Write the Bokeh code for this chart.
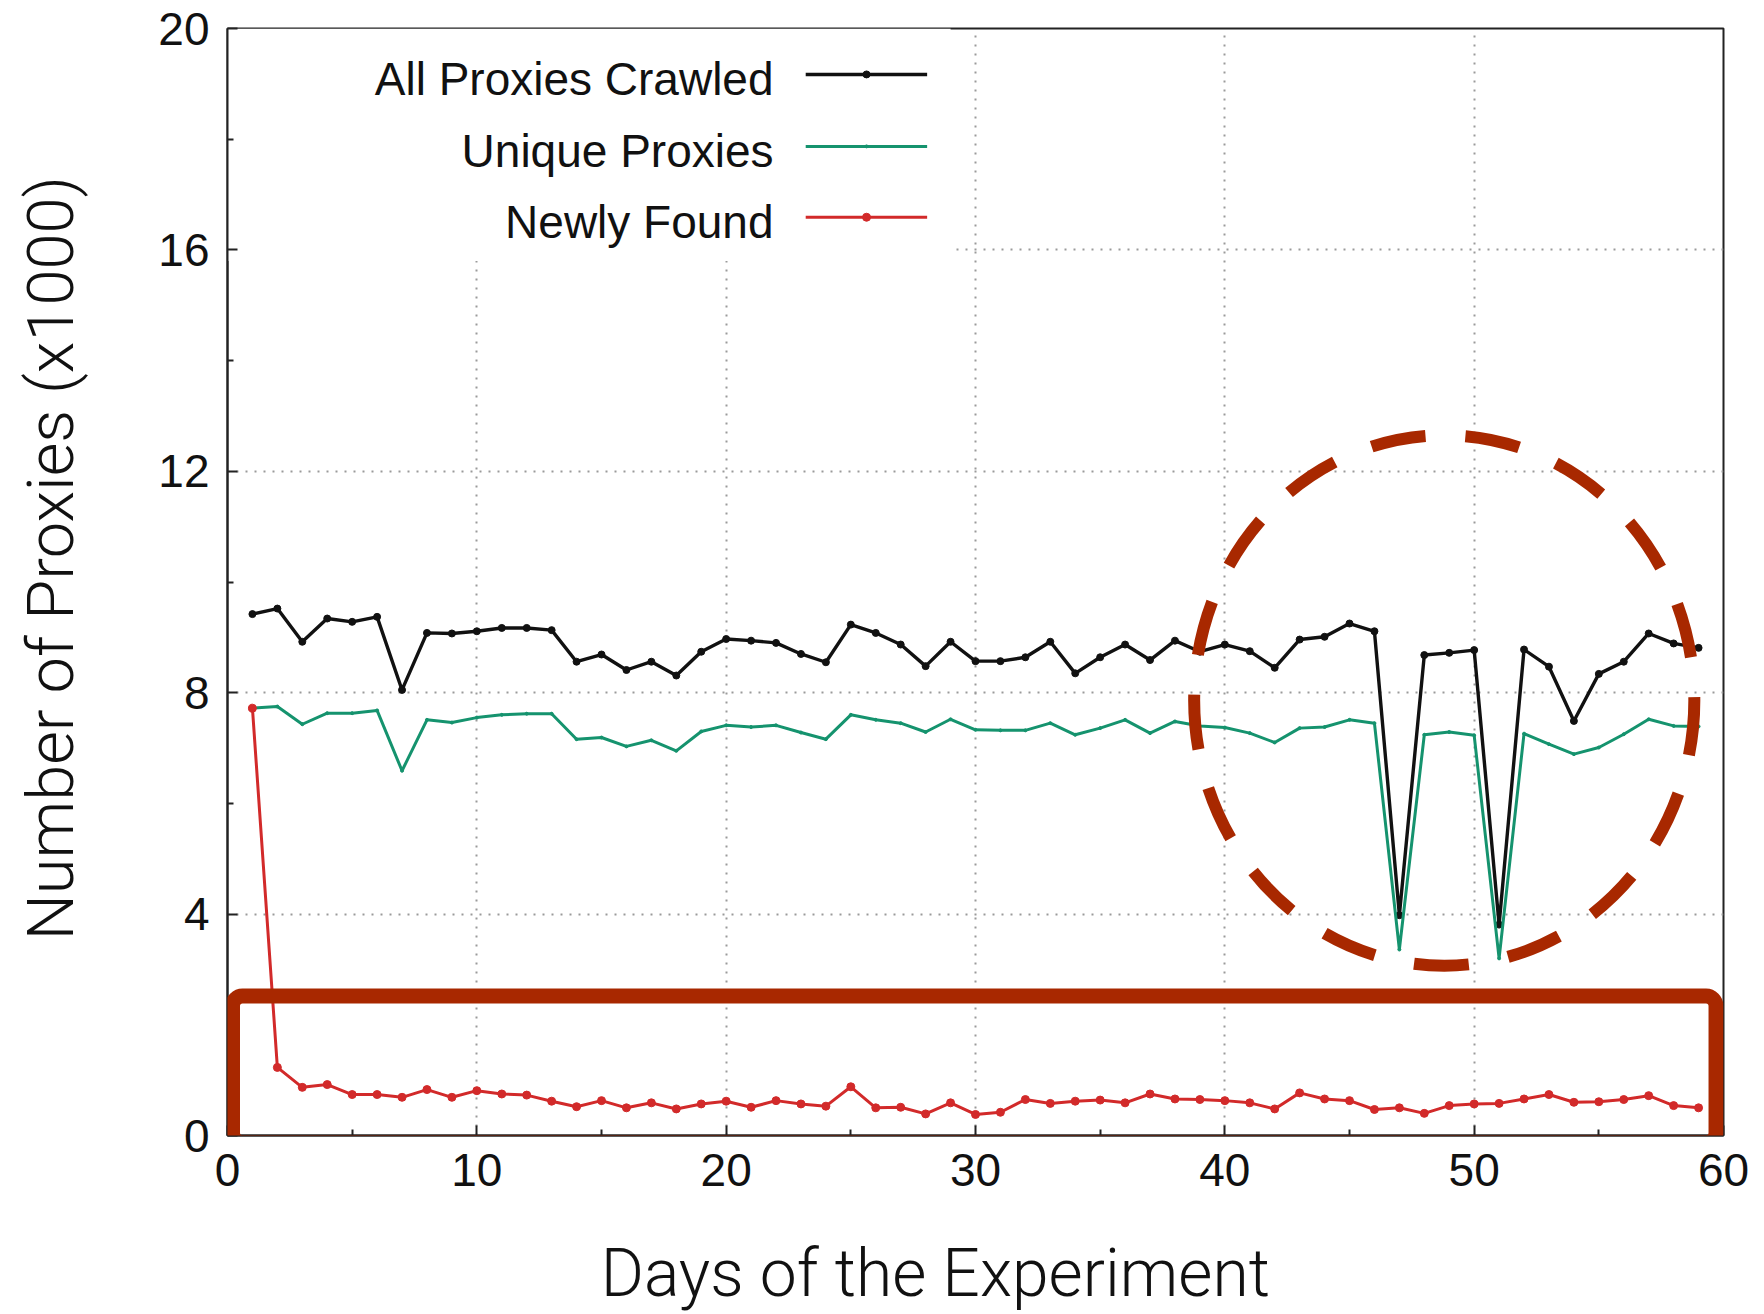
from bokeh.plotting import figure
from bokeh.models import FixedTicker, BoxAnnotation, Range1d
from bokeh.embed import file_html
from bokeh.resources import INLINE
from bokeh.core.properties import value

# ---------------- data ----------------
days = [1, 2, 3, 4, 5, 6, 7, 8, 9, 10, 11, 12, 13, 14, 15, 16, 17, 18, 19, 20,
        21, 22, 23, 24, 25, 26, 27, 28, 29, 30, 31, 32, 33, 34, 35, 36, 37, 38, 39, 40,
        41, 42, 43, 44, 45, 46, 47, 48, 49, 50, 51, 52, 53, 54, 55, 56, 57, 58, 59]

all_proxies = [9.42, 9.52, 8.92, 9.34, 9.28, 9.37, 8.05, 9.08, 9.07, 9.11,
               9.17, 9.17, 9.13, 8.56, 8.69, 8.41, 8.56, 8.31, 8.74, 8.97,
               8.94, 8.90, 8.70, 8.55, 9.23, 9.08, 8.87, 8.48, 8.92, 8.57,
               8.57, 8.64, 8.92, 8.35, 8.64, 8.87, 8.59, 8.94, 8.74, 8.87,
               8.75, 8.45, 8.96, 9.01, 9.25, 9.11, 3.98, 8.68, 8.72, 8.77,
               3.81, 8.78, 8.47, 7.49, 8.34, 8.56, 9.07, 8.89, 8.81]

unique_proxies = [7.72, 7.75, 7.43, 7.63, 7.63, 7.68, 6.59, 7.51, 7.46, 7.55,
                  7.60, 7.62, 7.62, 7.16, 7.19, 7.03, 7.14, 6.95, 7.30, 7.41,
                  7.38, 7.41, 7.28, 7.16, 7.60, 7.51, 7.45, 7.29, 7.52, 7.33,
                  7.32, 7.32, 7.45, 7.24, 7.36, 7.51, 7.27, 7.48, 7.40, 7.37,
                  7.27, 7.10, 7.36, 7.38, 7.51, 7.45, 3.36, 7.24, 7.29, 7.23,
                  3.20, 7.26, 7.07, 6.89, 7.01, 7.25, 7.52, 7.40, 7.39]

newly_found = [7.72, 1.23, 0.87, 0.92, 0.74, 0.74, 0.69, 0.83, 0.69, 0.81,
               0.75, 0.73, 0.62, 0.52, 0.63, 0.50, 0.59, 0.48, 0.57, 0.62,
               0.51, 0.63, 0.57, 0.53, 0.88, 0.50, 0.51, 0.39, 0.59, 0.38,
               0.42, 0.65, 0.58, 0.62, 0.64, 0.59, 0.75, 0.66, 0.65, 0.63,
               0.59, 0.48, 0.77, 0.66, 0.63, 0.47, 0.50, 0.40, 0.54, 0.57,
               0.58, 0.66, 0.74, 0.60, 0.61, 0.65, 0.72, 0.54, 0.50]

series_names = ["All Proxies Crawled", "Unique Proxies", "Newly Found"]
series_colors = ["#111111", "#15936e", "#d22a2a"]

x_ticks = [0, 10, 20, 30, 40, 50, 60]
x_minor_ticks = [5, 15, 25, 35, 45, 55]
y_ticks = [0, 4, 8, 12, 16, 20]
y_minor_ticks = [2, 6, 10, 14, 18]

x_title = "Days of the Experiment"
y_title = "Number of Proxies (x1000)"

# ---------------- layout / style ----------------
TICK_FONT = "Liberation Sans"
TITLE_FONT = "Roboto Light, Roboto"
ANNOT = "#a82800"
NBSP = "\u00a0"

p = figure(width=1764, height=1314,
           x_range=Range1d(0, 60), y_range=Range1d(0, 20),
           output_backend="svg", toolbar_location=None,
           min_border_left=227, min_border_right=41,
           min_border_top=28, min_border_bottom=179)

p.background_fill_color = "white"
p.border_fill_color = "white"
p.outline_line_color = "#222222"
p.outline_line_width = 2

for ax, major, minor in ((p.xaxis, x_ticks, x_minor_ticks), (p.yaxis, y_ticks, y_minor_ticks)):
    ax.ticker = FixedTicker(ticks=major, minor_ticks=minor)
    ax.axis_line_color = "#222222"
    ax.axis_line_width = 2
    ax.major_tick_in = 10
    ax.major_tick_out = 0
    ax.minor_tick_in = 6
    ax.minor_tick_out = 0
    ax.major_tick_line_color = "#222222"
    ax.minor_tick_line_color = "#222222"
    ax.major_tick_line_width = 2
    ax.minor_tick_line_width = 2
    ax.major_label_text_font = TICK_FONT
    ax.major_label_text_font_size = "46px"
    ax.major_label_text_color = "#111111"
    ax.major_label_standoff = 18
    ax.axis_label_text_font = TITLE_FONT
    ax.axis_label_text_font_style = "normal"
    ax.axis_label_text_color = "#111111"

# non-breaking padding shifts the titles off-centre like in the original
p.xaxis.axis_label = x_title + NBSP * 5
p.xaxis.axis_label_text_font_size = "66px"
p.xaxis.axis_label_standoff = 46
p.yaxis.axis_label = NBSP * 3 + y_title
p.yaxis.axis_label_text_font_size = "65px"
p.yaxis.axis_label_standoff = 66

p.xgrid.ticker = FixedTicker(ticks=[t for t in x_ticks if 0 < t < 60])
p.ygrid.ticker = FixedTicker(ticks=[t for t in y_ticks if 0 < t < 20])
for g in (p.xgrid, p.ygrid):
    g.grid_line_color = "#9a9a9a"
    g.grid_line_width = 2
    g.grid_line_dash = "2 7"

# white key background hides the grid behind the key
p.add_layout(BoxAnnotation(left=0, right=29.0, bottom=15.8, top=20,
                           fill_color="white", fill_alpha=1, line_alpha=0,
                           level="underlay"))

# ---------------- series ----------------
p.line(days, all_proxies, line_color=series_colors[0], line_width=3.4)
p.scatter(days, all_proxies, size=7, color=series_colors[0])
p.line(days, unique_proxies, line_color=series_colors[1], line_width=3)
p.scatter(days, unique_proxies, size=3, color=series_colors[1])
p.line(days, newly_found, line_color=series_colors[2], line_width=3)
p.scatter(days, newly_found, size=8, color=series_colors[2])

# ---------------- key (gnuplot style: text then sample) ----------------
key_rows = [19.17, 17.87, 16.59]
key_text_rows = [r - 0.08 for r in key_rows]
key_text_x = 21.9
key_x0, key_x1, key_mid = 23.19, 28.06, 25.63
p.text(x=[key_text_x] * 3, y=key_text_rows, text=series_names,
       text_align="right", text_baseline="middle",
       text_font=value(TICK_FONT), text_font_size="46px", text_color="#111111")
p.segment(x0=[key_x0] * 3, y0=key_rows, x1=[key_x1] * 3, y1=key_rows,
          line_color=series_colors, line_width=[3.4, 3, 3])
p.scatter(x=[key_mid] * 3, y=key_rows, color=series_colors, size=[7, 3, 8])

# ---------------- hand-drawn style highlights ----------------
p.ellipse(x=[48.8], y=[7.86], width=[20.06], height=[9.59],
          fill_alpha=0, line_color=ANNOT, line_width=12, line_dash="55 40",
          level="overlay")
p.add_layout(BoxAnnotation(left=0.2, right=59.7, bottom=-0.13, top=2.52,
                           fill_alpha=0, line_color=ANNOT, line_alpha=1,
                           line_width=15, border_radius=10, level="overlay"))

open("out.html", "w").write(file_html(p, INLINE))
